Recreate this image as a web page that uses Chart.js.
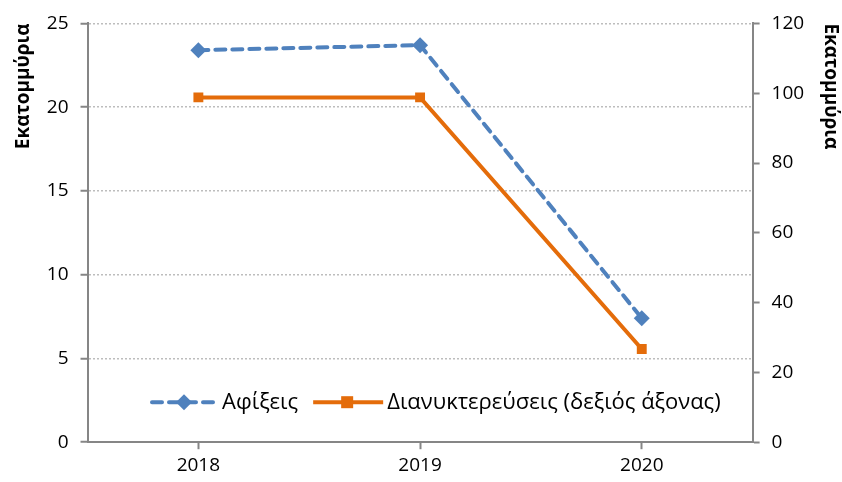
<!DOCTYPE html>
<html>
<head>
<meta charset="utf-8">
<script src="https://cdn.jsdelivr.net/npm/chart.js@4"></script>
<style>
  html, body { margin: 0; padding: 0; background: #fff; }
  #wrap { width: 842px; height: 482px; }
</style>
</head>
<body>
<div id="wrap"><canvas id="line-chart" width="842" height="482"></canvas></div>
<script>
const years = ['2018', '2019', '2020'];
const arrivals = [23.4, 23.7, 7.4];        // left axis
const overnights = [98.8, 98.8, 26.7];     // right axis
const leftTicks = [0, 5, 10, 15, 20, 25];
const rightTicks = [0, 20, 40, 60, 80, 100, 120];
const seriesNames = ['Αφίξεις', 'Διανυκτερεύσεις (δεξιός άξονας)'];
const axisTitle = 'Εκατομμύρια';

const FONT = "'Open Sans', 'Noto Sans', sans-serif";
const BLUE = '#4f81bd';
const ORANGE = '#e46c0a';
const AXIS = '#868686';

// legend drawn inside the plot area, like the original
const insideLegend = {
    id: 'insideLegend',
    afterDraw(chart) {
        const ctx = chart.ctx;
        const area = chart.chartArea;
        const y = area.bottom - 40;
        ctx.save();
        ctx.font = '22px ' + FONT;
        ctx.textBaseline = 'middle';
        ctx.fillStyle = '#000';
        const w1 = ctx.measureText(seriesNames[0]).width;
        const sample = 68, gap = 4, between = 15;
        let x = 150;

        // blue dashed + diamond
        ctx.strokeStyle = BLUE;
        ctx.lineWidth = 4;
        ctx.lineCap = 'round';
        ctx.setLineDash([10, 7]);
        ctx.beginPath();
        ctx.moveTo(x + 2, y);
        ctx.lineTo(x + sample - 2, y);
        ctx.stroke();
        ctx.setLineDash([]);
        ctx.fillStyle = BLUE;
        const cx = x + sample / 2;
        ctx.beginPath();
        ctx.moveTo(cx, y - 8); ctx.lineTo(cx + 8, y); ctx.lineTo(cx, y + 8); ctx.lineTo(cx - 8, y);
        ctx.closePath(); ctx.fill();
        x += sample + gap;
        ctx.fillStyle = '#000';
        ctx.fillText(seriesNames[0], x, y + 1);
        x += w1 + between;

        // orange solid + square
        ctx.strokeStyle = ORANGE;
        ctx.lineWidth = 4;
        ctx.lineCap = 'butt';
        ctx.beginPath();
        ctx.moveTo(x, y);
        ctx.lineTo(x + sample + 2, y);
        ctx.stroke();
        ctx.fillStyle = ORANGE;
        ctx.fillRect(x + sample / 2 - 6, y - 6, 12, 12);
        x += sample + gap + 2;
        ctx.fillStyle = '#000';
        ctx.fillText(seriesNames[1], x, y + 1);
        ctx.restore();
    }
};

let ctx = document.getElementById('line-chart').getContext('2d');
let lineChart = new Chart(ctx, {
    type: 'line',
    data: {
        labels: years,
        datasets: [{
            label: seriesNames[0],
            data: arrivals,
            yAxisID: 'y',
            borderColor: BLUE,
            backgroundColor: BLUE,
            borderWidth: 4,
            borderDash: [10, 7],
            borderCapStyle: 'round',
            pointStyle: 'rectRot',
            pointRadius: 8,
            pointBorderWidth: 0,
            tension: 0
        },
        {
            label: seriesNames[1],
            data: overnights,
            yAxisID: 'y1',
            borderColor: ORANGE,
            backgroundColor: ORANGE,
            borderWidth: 4,
            pointStyle: 'rect',
            pointRadius: 7,
            pointBorderWidth: 0,
            tension: 0
        }]
    },
    options: {
        responsive: false,
        animation: false,
        layout: { padding: { left: 12, right: 0, top: 0, bottom: 0 } },
        plugins: {
            legend: { display: false },
            tooltip: { enabled: false }
        },
        scales: {
            x: {
                offset: true,
                grid: {
                    offset: false,
                    drawOnChartArea: false,
                    drawTicks: true,
                    tickLength: 7,
                    tickColor: AXIS,
                    tickWidth: 2
                },
                border: { color: AXIS, width: 2 },
                ticks: { color: '#000', font: { family: FONT, size: 19 }, padding: 5 }
            },
            y: {
                position: 'left',
                min: 0,
                max: 25,
                afterBuildTicks: axis => { axis.ticks = leftTicks.map(v => ({ value: v })); },
                grid: {
                    color: ctx => ctx.tick && ctx.tick.value === 0 ? 'rgba(0,0,0,0)' : '#bdbdbd',
                    lineWidth: 1.5,
                    tickColor: AXIS,
                    tickBorderDash: [],
                    tickWidth: 2,
                    tickLength: 7
                },
                border: { color: AXIS, width: 2, dash: [2, 2] },
                ticks: { color: '#000', font: { family: FONT, size: 19 }, padding: 12 },
                title: {
                    display: true,
                    text: axisTitle,
                    align: 'end',
                    color: '#000',
                    font: { family: FONT, size: 19, weight: 'bold' },
                    padding: { top: 0, bottom: 0 }
                }
            },
            y1: {
                position: 'right',
                min: 0,
                max: 120,
                afterBuildTicks: axis => { axis.ticks = rightTicks.map(v => ({ value: v })); },
                grid: {
                    drawOnChartArea: false,
                    tickColor: AXIS,
                    tickWidth: 2,
                    tickLength: 7
                },
                border: { color: AXIS, width: 2 },
                ticks: { color: '#000', font: { family: FONT, size: 19 }, padding: 12 },
                title: {
                    display: true,
                    text: axisTitle,
                    align: 'end',
                    color: '#000',
                    font: { family: FONT, size: 19, weight: 'bold' },
                    padding: { top: 0, bottom: 3 }
                }
            }
        }
    },
    plugins: [insideLegend]
});
</script>
</body>
</html>
